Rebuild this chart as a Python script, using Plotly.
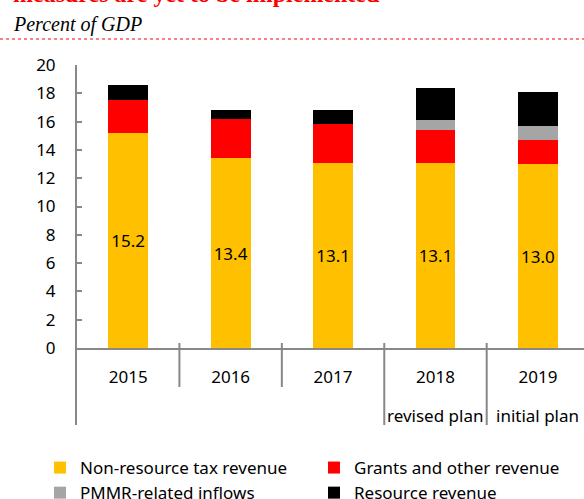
import plotly.graph_objects as go

years = ["2015", "2016", "2017", "2018", "2019"]
sublabels = ["", "", "", "revised plan", "initial plan"]
non_resource = [15.2, 13.4, 13.1, 13.1, 13.0]
grants = [2.3, 2.8, 2.7, 2.3, 1.7]
pmmr = [0.0, 0.0, 0.0, 0.7, 1.0]
resource = [1.1, 0.6, 1.0, 2.3, 2.4]

FONT = "Noto Sans"
AX = "#888888"
W, H = 584, 499
L, R, T, B = 77, 0, 65, 151
PW, PH = W - L - R, H - T - B


def py(pix):  # pixel y -> paper y
    return (H - B - pix) / PH


def px(pix):  # pixel x -> paper x
    return (pix - L) / PW


fig = go.Figure()
fig.add_bar(x=years, y=non_resource, name="Non-resource tax revenue",
            marker=dict(color="#FFC000", line=dict(width=0)),
            texttemplate="%{y:.1f}", textposition="inside", insidetextanchor="middle",
            constraintext="none", textangle=0,
            textfont=dict(family=FONT, size=17, color="black"))
fig.add_bar(x=years, y=grants, name="Grants and other revenue",
            marker=dict(color="#FF0000", line=dict(width=0)))
fig.add_bar(x=years, y=pmmr, name="PMMR-related inflows",
            marker=dict(color="#A5A5A5", line=dict(width=0)))
fig.add_bar(x=years, y=resource, name="Resource revenue",
            marker=dict(color="#000000", line=dict(width=0)))

shapes = []
# category boundary lines
for i in range(len(years) - 1):
    long_line = sublabels[i + 1] != "" or sublabels[i] != ""
    shapes.append(dict(type="line", xref="x", yref="paper", x0=i + 0.5, x1=i + 0.5,
                       y0=py(343), y1=py(425 if long_line else 387),
                       line=dict(color=AX, width=2)))
# left axis extension
shapes.append(dict(type="line", xref="paper", yref="paper", x0=px(76), x1=px(76),
                   y0=py(348), y1=py(425), line=dict(color=AX, width=2)))
# dotted red rule under the title
shapes.append(dict(type="line", xref="paper", yref="paper", x0=px(0), x1=1,
                   y0=py(39), y1=py(39), line=dict(color="#FF0000", width=1, dash="dot")))

annotations = []
for i, s in enumerate(sublabels):
    if s:
        annotations.append(dict(text=s, xref="x", x=i, yref="paper", y=py(415),
                                xanchor="center", yanchor="middle", showarrow=False,
                                font=dict(family=FONT, size=17, color="black")))
annotations.append(dict(text="<b>measures are yet to be implemented</b>", xref="paper",
                        x=px(11), yref="paper", y=py(-6), xanchor="left", yanchor="middle",
                        showarrow=False,
                        font=dict(family="Liberation Serif", size=24, color="#FF0000")))
annotations.append(dict(text="Percent of GDP", xref="paper", x=px(11), yref="paper",
                        y=py(24), xanchor="left", yanchor="middle", showarrow=False,
                        font=dict(family="Liberation Serif", size=20, color="black",
                                  style="italic")))

fig.update_layout(
    width=W, height=H,
    margin=dict(l=L, r=R, t=T, b=B, pad=0, autoexpand=False),
    paper_bgcolor="white", plot_bgcolor="white",
    barmode="stack", bargap=0.61,
    font=dict(family=FONT, size=17, color="black"),
    xaxis=dict(type="category", range=[-0.5, 4.45], showline=True, linecolor=AX,
               linewidth=2, ticks="", showgrid=False, zeroline=False, automargin=False,
               tickfont=dict(family=FONT, size=17), ticklabelstandoff=13),
    yaxis=dict(range=[0, 20], dtick=2, showline=True, linecolor=AX, linewidth=2,
               ticks="inside", ticklen=5, tickcolor=AX, tickwidth=2, showgrid=False,
               zeroline=False, automargin=False,
               tickfont=dict(family=FONT, size=17), ticklabelstandoff=16),
    legend=dict(orientation="h", x=px(40), xanchor="left", y=py(450), yanchor="top",
                entrywidth=229, traceorder="normal", font=dict(family=FONT, size=17),
                itemclick=False, bgcolor="rgba(0,0,0,0)"),
    shapes=shapes, annotations=annotations,
)

fig.write_html("out.html", config={"displayModeBar": False, "staticPlot": True},
               post_script="document.body.style.margin='0px';document.body.style.overflow='hidden';")
